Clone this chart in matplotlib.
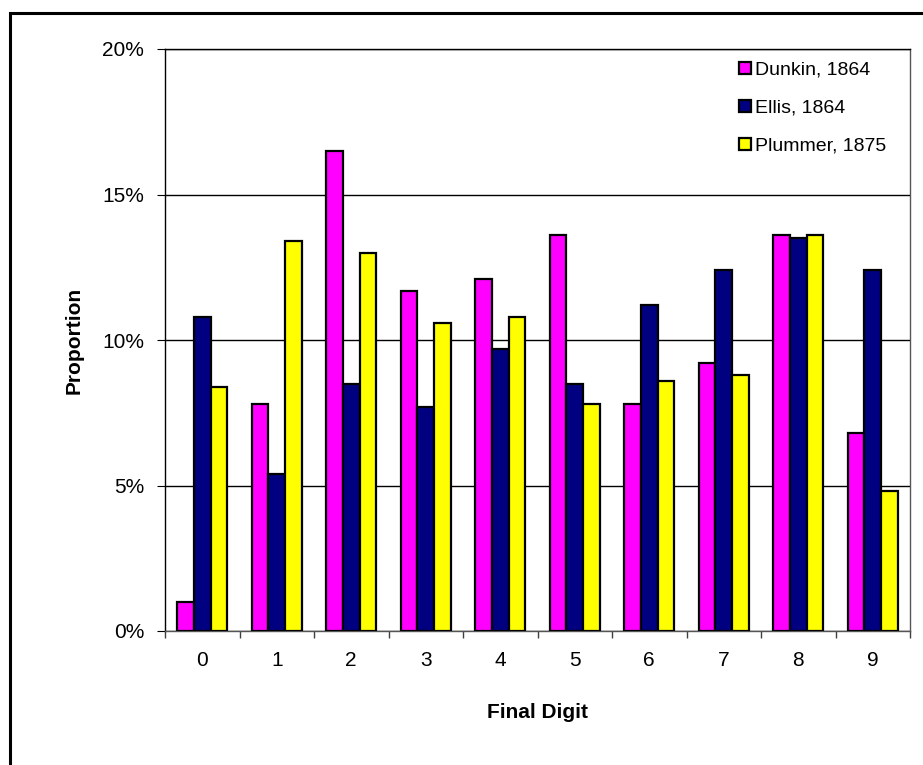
import numpy as np
import matplotlib.pyplot as plt
from matplotlib.patches import Rectangle
from matplotlib.ticker import FuncFormatter

plt.rcParams['font.family'] = ['Liberation Sans', 'DejaVu Sans']

digits = ['0', '1', '2', '3', '4', '5', '6', '7', '8', '9']
dunkin = [1.0, 7.8, 16.5, 11.7, 12.1, 13.6, 7.8, 9.2, 13.6, 6.8]
ellis = [10.8, 5.4, 8.5, 7.7, 9.7, 8.5, 11.2, 12.4, 13.5, 12.4]
plummer = [8.4, 13.4, 13.0, 10.6, 10.8, 7.8, 8.6, 8.8, 13.6, 4.8]

series = [('Dunkin, 1864', dunkin, '#FF00FF'),
          ('Ellis, 1864', ellis, '#000080'),
          ('Plummer, 1875', plummer, '#FFFF00')]

W, H = 923, 765
fig = plt.figure(figsize=(W / 100, H / 100), dpi=100)
ax = fig.add_axes([165 / W, 1 - 631 / H, (910 - 165) / W, (631 - 49) / H])

# outer chart border (runs off the right/bottom of the picture)
fig.patches.append(Rectangle((10 / W, -0.05), 1.0, 1 - 13 / H + 0.05,
                             transform=fig.transFigure, fill=False,
                             edgecolor='black', linewidth=2.2, zorder=0))

x = np.arange(len(digits))
bw = 0.222
for i, (name, vals, col) in enumerate(series):
    ax.bar(x + (i - 1) * bw, vals, width=bw, color=col, edgecolor='black',
           linewidth=1.6, label=name, zorder=3)

ax.set_xlim(-0.5, 9.5)
ax.set_ylim(0, 20)
ax.set_yticks([0, 5, 10, 15, 20])
ax.yaxis.set_major_formatter(FuncFormatter(lambda v, p: f'{v:.0f}%'))
ax.set_xticks(x)
ax.set_xticklabels(digits)
ax.set_xticks(np.arange(-0.5, 10, 1), minor=True)
ax.tick_params(axis='x', which='major', length=0, labelsize=15, pad=14.5)
ax.tick_params(axis='x', which='minor', length=5, direction='out', width=1, color='#404040')
ax.tick_params(axis='y', length=6, direction='out', labelsize=15, pad=9)

ax.grid(axis='y', color='black', linewidth=1, zorder=0)
ax.set_axisbelow(True)
for s in ax.spines.values():
    s.set_color('black')
    s.set_linewidth(1)
ax.spines['bottom'].set_color('#555555')
ax.spines['right'].set_color('#555555')

ax.set_xlabel('Final Digit', fontsize=15, fontweight='bold', labelpad=24)
ax.set_ylabel('Proportion', fontsize=15, fontweight='bold', labelpad=13)

ax.legend(loc='upper left', bbox_to_anchor=(0.770, 0.978), frameon=False,
          fontsize=14, handlelength=0.62, handleheight=0.6, handletextpad=0.2,
          labelspacing=1.08, borderpad=0, borderaxespad=0)

fig.savefig('out.png', dpi=100)
